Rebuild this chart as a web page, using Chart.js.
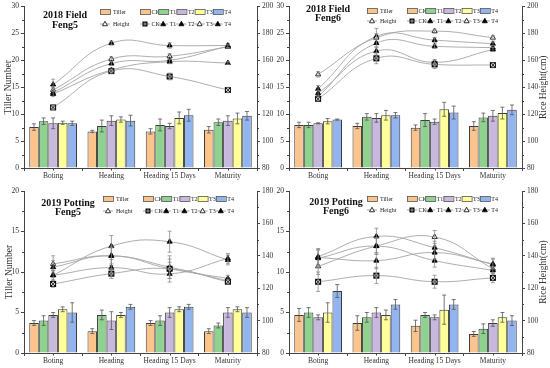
<!DOCTYPE html>
<html><head><meta charset="utf-8">
<script src="https://cdn.jsdelivr.net/npm/chart.js@4/dist/chart.umd.min.js"></script>
<style>
html,body{margin:0;padding:0;background:#fff;}
#wrap{position:relative;width:550px;height:368px;overflow:hidden;background:#fff;}
canvas{position:absolute;}
</style></head><body>
<div id="wrap">
<canvas id="c1" width="275" height="184" style="left:0;top:0"></canvas>
<canvas id="c2" width="275" height="184" style="left:275px;top:0"></canvas>
<canvas id="c3" width="275" height="184" style="left:0;top:184px"></canvas>
<canvas id="c4" width="275" height="184" style="left:275px;top:184px"></canvas>
</div>
<script>
const stages = ['Boting','Heading','Heading 15 Days','Maturity'];
const treatments = ['CK','T1','T2','T3','T4'];

// ---- 2018 Field Feng5 ----
const tiller18F5 = [[7.6,6.8,6.8,7.1],[8.7,7.8,8.0,8.5],[8.3,8.8,7.8,8.8],[8.4,9.0,9.3,9.2],[8.3,8.8,9.8,9.7]];
const tillerErr18F5 = [[0.6,0.2,0.5,0.6],[0.6,1.1,1.1,0.6],[1.0,0.9,0.5,0.9],[0.3,0.5,1.1,1.0],[0.4,1.0,1.1,0.8]];
const height18F5 = [[125,152,148,138],[135,152.8,159,158],[136,157.6,160,170.5],[138,161,163,170],[142,172.8,171,171]];
const heightErr18F5 = [[1.5,1.5,2.5,2],[2,1.5,1.5,1],[2,1.5,1.5,1],[2,1.5,2,1],[4,1.5,2,1.5]];

// ---- 2018 Field Feng6 ----
const tiller18F6 = [[8.0,7.8,7.5,7.8],[8.0,9.5,8.9,9.4],[8.3,9.3,8.6,9.7],[8.7,9.8,10.9,10.2],[9.0,9.8,10.3,10.8]];
const tillerErr18F6 = [[0.5,0.5,0.5,0.8],[0.5,0.6,1.2,0.8],[0.1,0.8,0.5,1.0],[0.5,0.9,1.3,1.1],[0.1,0.5,1.2,0.9]];
const height18F6 = [[131.4,161.5,157,156.5],[135.6,166.9,158.5,168],[133,172.8,170.4,169.4],[149.6,176.8,181.7,176.8],[138.8,177.8,175,172.3]];
const heightErr18F6 = [[1.5,4,3,1.5],[2,3,2,1.5],[2,3,1.5,1.5],[2,3,1.5,1.5],[2.5,6,2,1.5]];

// ---- 2019 Potting Feng5 ----
const tiller19F5 = [[3.7,2.7,3.7,2.7],[4.0,4.7,4.0,3.4],[4.7,4.0,5.0,5.0],[5.4,4.7,5.4,5.4],[5.0,5.7,5.7,5.0]];
const tillerErr19F5 = [[0.3,0.3,0.3,0.3],[0.6,0.6,0.6,0.3],[0.3,1.1,0.6,0.6],[0.3,0.3,0.3,0.3],[1.2,0.3,0.3,0.6]];
const height19F5 = [[122.6,129,132,124],[128,132.7,128.8,138.4],[133,140,132,126],[135,140,133,124.5],[128,146,148.7,137.4]];
const heightErr19F5 = [[2,3,4,1.5],[3,5,5,3],[4,5,6,2],[5,6,7,2],[3,6.5,6.5,3]];

// ---- 2019 Potting Feng6 ----
const tiller19F6 = [[4.7,3.7,3.35,2.35],[5.0,4.4,4.7,3.0],[4.4,5.0,4.4,3.7],[5.0,4.7,5.35,4.4],[7.65,6.0,6.0,4.0]];
const tillerErr19F6 = [[0.8,0.9,0.7,0.3],[0.6,0.6,0.3,0.6],[0.3,0.6,0.3,0.4],[1.2,0.6,1.8,0.6],[0.8,0.6,0.6,0.6]];
const height19F6 = [[124,127.8,124,126.4],[139,137,142,135],[138.5,146,137,131],[133.5,146,151.6,132],[139.5,152,145,134.5]];
const heightErr19F6 = [[6,5,4,3],[5,5,4,3],[5,5,4,3],[5,5,4,3],[5,5,4,4]];

const leftTicks30 = [0,5,10,15,20,25,30];
const leftTicks20 = [0,5,10,15,20];
const rightTicks200 = [80,100,120,140,160,180,200];
const rightTicks180 = [80,100,120,140,160,180];

const barColors = ['#FBC48C','#8FD18F','#C8B8DE','#FFFF99','#93B5EF'];
const SERIF = '"Liberation Serif", "DejaVu Serif", serif';

function makeCK(r){
  const s = 2*r+2;
  const c = document.createElement('canvas'); c.width = s; c.height = s;
  const g = c.getContext('2d');
  g.fillStyle = '#eee'; g.fillRect(1,1,s-2,s-2);
  g.strokeStyle = '#000'; g.lineWidth = 1;
  g.strokeRect(1.5,1.5,s-3,s-3);
  g.beginPath(); g.moveTo(1.5,1.5); g.lineTo(s-1.5,s-1.5); g.moveTo(s-1.5,1.5); g.lineTo(1.5,s-1.5); g.stroke();
  return c;
}
const ckImg = makeCK(3);
const ckImgSmall = makeCK(2.5);
const pointStyles = [ckImg,'triangle','triangle','triangle','triangle'];
const pointFills = ['#fff','#000','#000','#fff','#000'];

function drawMarker(ctx, i, x, y, r){
  if (i === 0) { ctx.drawImage(ckImgSmall, x - ckImgSmall.width/2, y - ckImgSmall.height/2); return; }
  ctx.beginPath();
  ctx.moveTo(x, y - r*1.1);
  ctx.lineTo(x + r, y + r*0.7);
  ctx.lineTo(x - r, y + r*0.7);
  ctx.closePath();
  ctx.fillStyle = pointFills[i]; ctx.fill();
  ctx.strokeStyle = '#000'; ctx.lineWidth = 0.8; ctx.stroke();
}

const decor = {
  id: 'decor',
  afterDatasetDraw(chart, args) {
    const ds = chart.data.datasets[args.index];
    if (!ds.errors) return;
    const scale = chart.scales[ds.yAxisID];
    const ctx = chart.ctx;
    ctx.save();
    ctx.strokeStyle = ds.type === 'line' ? '#8a8a8a' : '#555';
    ctx.lineWidth = 0.8;
    args.meta.data.forEach((el, i) => {
      const v = ds.data[i], e = ds.errors[i];
      const x = el.x;
      const yTop = scale.getPixelForValue(v + e), yBot = scale.getPixelForValue(v - e);
      ctx.beginPath();
      ctx.moveTo(x, yTop); ctx.lineTo(x, yBot);
      ctx.moveTo(x - 2, yTop); ctx.lineTo(x + 2, yTop);
      ctx.moveTo(x - 2, yBot); ctx.lineTo(x + 2, yBot);
      ctx.stroke();
    });
    ctx.restore();
  },
  afterDraw(chart, args, opts) {
    const ctx = chart.ctx;
    const ca = chart.chartArea;
    const xs = chart.scales.x, y = chart.scales.y, y1 = chart.scales.y1;
    ctx.save();
    ctx.strokeStyle = '#444'; ctx.lineWidth = 1;
    // center ticks on x axis
    ctx.beginPath();
    stages.forEach((s, i) => { const px = Math.round(xs.getPixelForValue(i)) + 0.5; ctx.moveTo(px, ca.bottom); ctx.lineTo(px, ca.bottom + 2.5); });
    // minor ticks left
    for (let v = 2.5; v < y.max; v += 5) { const py = Math.round(y.getPixelForValue(v)) + 0.5; ctx.moveTo(ca.left - 2, py); ctx.lineTo(ca.left, py); }
    for (let v = 90; v < y1.max; v += 20) { const py = Math.round(y1.getPixelForValue(v)) + 0.5; ctx.moveTo(ca.right, py); ctx.lineTo(ca.right + 2, py); }
    ctx.stroke();

    // axis titles
    ctx.fillStyle = '#333';
    ctx.font = '9.5px ' + SERIF;
    ctx.textAlign = 'center'; ctx.textBaseline = 'middle';
    if (opts.leftTitle) {
      ctx.save(); ctx.translate(opts.leftTitleX, (ca.top + ca.bottom)/2); ctx.rotate(-Math.PI/2);
      ctx.fillText('Tiller Number', 0, 0); ctx.restore();
    }
    if (opts.rightTitle) {
      ctx.save(); ctx.translate(opts.rightTitleX, (ca.top + ca.bottom)/2); ctx.rotate(-Math.PI/2);
      ctx.fillText('Rice Height(cm)', 0, 0); ctx.restore();
    }
    // panel title
    ctx.fillStyle = '#111';
    ctx.font = 'bold 10px ' + SERIF;
    ctx.fillText(opts.title[0], opts.titleX, opts.titleY[0]);
    ctx.fillText(opts.title[1], opts.titleX, opts.titleY[1]);

    // legend
    const L = opts.legend;
    ctx.font = '6px ' + SERIF;
    ctx.textAlign = 'left';
    ctx.fillStyle = '#222';
    ctx.lineWidth = 0.8;
    // row 1 : Tiller
    ctx.fillStyle = barColors[0]; ctx.fillRect(L.x, L.y1 - 2.5, 10, 5);
    ctx.strokeStyle = '#555'; ctx.strokeRect(L.x + 0.5, L.y1 - 2.5, 10, 5);
    ctx.fillStyle = '#222'; ctx.fillText('Tiller', L.x + 13, L.y1);
    treatments.forEach((t, i) => {
      const bx = L.x + 40 + i * 18.2;
      ctx.fillStyle = barColors[i]; ctx.fillRect(bx, L.y1 - 2.5, 10, 5);
      ctx.strokeStyle = '#555'; ctx.strokeRect(bx + 0.5, L.y1 - 2.5, 10, 5);
      ctx.fillStyle = '#222'; ctx.fillText(t, bx + 11.5, L.y1);
    });
    // row 2 : Height
    ctx.strokeStyle = '#888';
    ctx.beginPath(); ctx.moveTo(L.x, L.y2); ctx.lineTo(L.x + 10, L.y2); ctx.stroke();
    drawMarker(ctx, 3, L.x + 5, L.y2, 2.5);
    ctx.fillStyle = '#222'; ctx.fillText('Height', L.x + 13, L.y2);
    treatments.forEach((t, i) => {
      const bx = L.x + 40 + i * 18.2;
      ctx.strokeStyle = '#888'; ctx.lineWidth = 0.8;
      ctx.beginPath(); ctx.moveTo(bx, L.y2); ctx.lineTo(bx + 10, L.y2); ctx.stroke();
      drawMarker(ctx, i, bx + 5, L.y2, 2.5);
      ctx.fillStyle = '#222'; ctx.fillText(t, bx + 11.5, L.y2);
    });
    ctx.restore();
  }
};

function makePanel(cfg) {
  const datasets = [];
  treatments.forEach((t, i) => {
    datasets.push({
      type: 'bar', label: t + ' Tiller', data: cfg.tiller[i], errors: cfg.tillerErr[i], yAxisID: 'y',
      backgroundColor: barColors[i], borderColor: '#3c3c3c', borderWidth: 1,
      categoryPercentage: 0.82, barPercentage: 1.0, order: 2
    });
  });
  treatments.forEach((t, i) => {
    datasets.push({
      type: 'line', label: t + ' Height', data: cfg.height[i], errors: cfg.heightErr[i], yAxisID: 'y1',
      borderColor: '#a5a5a5', borderWidth: 0.9, tension: 0.45, fill: false,
      pointStyle: pointStyles[i], pointRadius: 3, pointBackgroundColor: pointFills[i],
      pointBorderColor: '#000', pointBorderWidth: 0.8, order: 1
    });
  });
  const tickFont = { family: SERIF, size: 7.5 };
  new Chart(document.getElementById(cfg.id), {
    type: 'bar',
    data: { labels: stages, datasets },
    plugins: [decor],
    options: {
      responsive: false, animation: false, devicePixelRatio: 1,
      layout: { padding: { top: cfg.top, left: 0, right: 0, bottom: 0 } },
      plugins: {
        legend: { display: false }, tooltip: { enabled: false },
        decor: cfg.decor
      },
      scales: {
        x: {
          offset: true,
          grid: { drawOnChartArea: false, offset: true, tickLength: 3, color: '#444' },
          border: { color: '#444', width: 1 },
          ticks: { font: tickFont, color: '#333', padding: 1, maxRotation: 0, autoSkip: false },
          afterFit(s) { s.height = cfg.bottom; }
        },
        y: {
          position: 'left', min: 0, max: cfg.leftTicks[cfg.leftTicks.length - 1],
          afterBuildTicks(s) { s.ticks = cfg.leftTicks.map(v => ({ value: v })); },
          grid: { drawOnChartArea: false, tickLength: 3, color: '#444' },
          border: { color: '#444', width: 1 },
          ticks: { font: tickFont, color: '#333', padding: 2 },
          afterFit(s) { s.width = cfg.left; }
        },
        y1: {
          position: 'right', min: 80, max: cfg.rightTicks[cfg.rightTicks.length - 1],
          afterBuildTicks(s) { s.ticks = cfg.rightTicks.map(v => ({ value: v })); },
          grid: { drawOnChartArea: false, tickLength: 3, color: '#444' },
          border: { color: '#444', width: 1 },
          ticks: { font: tickFont, color: '#333', padding: 2 },
          afterFit(s) { s.width = cfg.right; }
        }
      }
    }
  });
}

makePanel({ id: 'c1', tiller: tiller18F5, tillerErr: tillerErr18F5, height: height18F5, heightErr: heightErr18F5,
  leftTicks: leftTicks30, rightTicks: rightTicks200, top: 5, bottom: 16, left: 24, right: 18,
  decor: { leftTitle: true, leftTitleX: 8, rightTitle: false, title: ['2018 Field','Feng5'], titleX: 65, titleY: [15, 25], legend: { x: 100, y1: 12, y2: 24 } } });
makePanel({ id: 'c2', tiller: tiller18F6, tillerErr: tillerErr18F6, height: height18F6, heightErr: heightErr18F6,
  leftTicks: leftTicks30, rightTicks: rightTicks200, top: 5, bottom: 16, left: 14, right: 28,
  decor: { leftTitle: false, rightTitle: true, rightTitleX: 268, title: ['2018 Field','Feng6'], titleX: 53, titleY: [9, 18.5], legend: { x: 92, y1: 11, y2: 21 } } });
makePanel({ id: 'c3', tiller: tiller19F5, tillerErr: tillerErr19F5, height: height19F5, heightErr: heightErr19F5,
  leftTicks: leftTicks20, rightTicks: rightTicks180, top: 7, bottom: 15, left: 24, right: 18,
  decor: { leftTitle: true, leftTitleX: 9, rightTitle: false, title: ['2019 Potting','Feng5'], titleX: 68, titleY: [19, 28.5], legend: { x: 103, y1: 15, y2: 27 } } });
makePanel({ id: 'c4', tiller: tiller19F6, tillerErr: tillerErr19F6, height: height19F6, heightErr: heightErr19F6,
  leftTicks: leftTicks20, rightTicks: rightTicks180, top: 7, bottom: 15, left: 14, right: 28,
  decor: { leftTitle: false, rightTitle: true, rightTitleX: 268, title: ['2019 Potting','Feng6'], titleX: 61, titleY: [18, 27], legend: { x: 92, y1: 15, y2: 26 } } });
</script>
</body></html>
